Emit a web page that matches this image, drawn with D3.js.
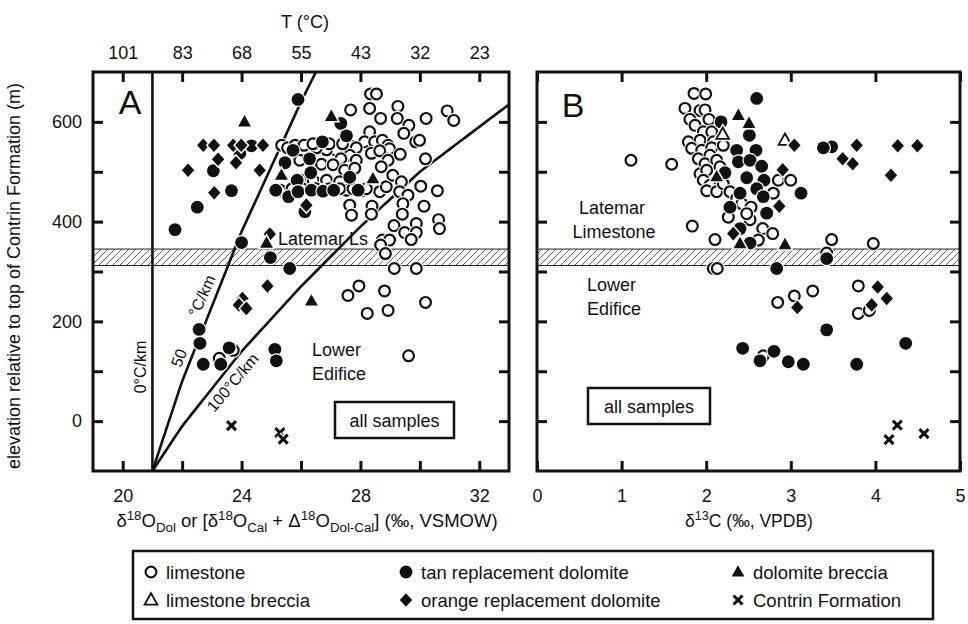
<!DOCTYPE html>
<html>
<head>
<meta charset="utf-8">
<script src="https://cdn.jsdelivr.net/npm/d3@7"></script>
<style>
body { margin: 0; background: #fff; }
svg { display: block; }
</style>
</head>
<body>
<svg></svg>
<script>
var svgWidth = 968;
var svgHeight = 624;
var font = "'Liberation Sans', Arial, Helvetica, sans-serif";

/* ---- data ---- */
// panel A: d18O (permil VSMOW) vs elevation (m)
var aLimestone = [
  [28.34,656],[28.54,656],[27.67,624],[28.31,627],[29.26,631],[28.68,607],[29.24,607],[30.21,607],[30.92,622],[31.14,603],
  [29.63,593],[29.46,577],[29.86,560],[29.99,563],[30.19,526],[28.31,580],[28.14,560],[28.48,560],[28.74,563],[28.93,553],
  [28.98,546],[28.37,537],[28.65,542],[28.93,523],[28.70,510],[29.34,535],[27.64,553],[27.86,548],[27.64,533],[27.86,523],
  [27.19,543],[27.34,526],[26.86,544],[26.52,548],[25.96,523],[26.69,515],[27.08,514],[27.47,503],[27.81,507],
  [26.01,483],[26.41,483],[26.86,483],[27.30,480],[26.63,463],[27.53,463],[28.09,463],[28.42,473],[28.65,460],[28.87,470],
  [29.09,493],[29.38,480],[29.32,460],[29.60,453],[29.43,436],[30.03,471],[30.59,462],[30.14,431],[27.64,433],[27.70,413],
  [28.39,431],[28.37,415],[29.41,415],[29.13,392],[29.49,378],[29.88,396],[29.88,378],[30.63,404],[30.66,386],[29.71,364],
  [28.74,363],[28.98,363],[28.68,353],[28.84,336],[29.14,306],[29.88,306],[27.58,252],[27.95,271],[28.81,261],[28.23,216],
  [28.93,222],[30.19,238],[29.62,131],[23.25,126],[23.72,142],
  [25.35,553],[25.55,548],[25.80,553],[26.10,553],[26.40,556],[26.95,556],[27.40,556],[25.30,463],[25.70,466],[26.05,466],
  [26.50,466],[26.95,466],[27.30,466],[27.75,466],[28.20,466]
];
var aTanDol = [
  [25.90,645],[27.34,597],[27.53,572],[23.94,537],[24.33,552],[23.05,502],[23.66,462],[22.51,429],[21.76,384],[24.00,358],
  [25.73,543],[25.46,518],[26.29,526],[26.33,498],[26.72,560],[25.87,483],[25.15,463],[25.58,450],[25.90,460],[26.35,463],
  [26.74,461],[27.10,463],[27.64,489],[26.13,420],[27.92,463],[24.97,328],[25.62,306],[22.57,184],[22.60,156],[22.71,114],
  [23.30,114],[23.58,147],[25.12,144],[25.17,121]
];
var aOrangeDol = [
  [22.71,553],[23.07,553],[23.72,553],[23.99,553],[24.72,553],[23.21,525],[23.81,518],[22.20,503],[24.61,503],[23.08,458],
  [24.95,375],[26.18,433],[24.87,271],[24.03,246],[23.91,233],[24.16,226]
];
var aDolBreccia = [[24.10,600],[27.02,611],[25.34,493],[24.84,357],[26.35,241],[28.42,486]];
var aLimeBreccia = [];
var aContrin = [[23.66,-9],[25.29,-23],[25.40,-36]];

// panel B: d13C (permil VPDB) vs elevation (m)
var bLimestone = [
  [1.856,657],[1.994,656],[1.749,627],[1.927,623],[1.986,624],[1.808,605],[2.033,605],[1.868,593],[1.966,580],[2.065,580],
  [1.789,560],[1.927,563],[2.084,560],[2.163,560],[1.828,547],[1.947,543],[2.065,548],[2.202,553],[1.907,526],[2.045,533],
  [1.986,516],[2.124,523],[1.927,496],[2.006,503],[2.163,510],[1.966,483],[2.045,473],[2.006,462],[2.124,460],[2.202,476],
  [2.281,460],[2.360,446],[2.420,436],[2.261,409],[2.530,429],[2.518,404],[2.479,416],[2.668,386],[2.786,376],[2.793,457],
  [2.853,483],[2.999,483],[2.616,363],[2.104,364],[1.836,391],[1.592,515],[1.111,523],[3.483,364],[3.975,356],[3.424,337],
  [2.084,306],[2.131,306],[3.798,271],[3.259,261],[3.042,251],[2.845,238],[3.798,216],[3.928,222],[2.675,131]
];
var bTanDol = [
  [2.597,647],[2.175,600],[2.510,573],[2.360,543],[2.589,543],[2.380,520],[2.518,523],[2.656,511],[2.222,498],[2.479,488],
  [2.683,483],[2.597,466],[2.400,457],[2.675,450],[3.121,457],[2.281,429],[2.715,417],[2.400,386],[2.518,357],[3.483,550],
  [3.385,548],[2.833,306],[3.424,326],[3.424,183],[4.358,156],[2.431,146],[2.636,121],[2.801,140],[2.970,119],[3.148,114],
  [3.779,114]
];
var bOrangeDol = [
  [3.042,553],[3.779,553],[4.264,552],[4.496,552],[3.613,526],[3.732,516],[4.184,493],[2.904,504],[2.864,431],[2.320,376],
  [4.027,269],[4.134,246],[3.077,228],[3.956,233]
];
var bDolBreccia = [[2.380,613],[2.506,597],[2.124,490],[2.400,356],[2.931,354]];
var bLimeBreccia = [[2.195,575],[2.931,563]];
var bContrin = [[4.259,-8],[4.161,-37],[4.574,-25]];

// axes
var d18Ticks = [20,22,24,26,28,30,32];
var d18Labels = [20,24,28,32];
var tempValues = [101,83,68,55,43,32,23];     // top axis, T (degC) at each d18O tick
var d13Ticks = [0,1,2,3,4,5];
var elevTicks = [0,100,200,300,400,500,600];
var elevLabels = [0,200,400,600];
var gradients = [0, 50, 100];                 // degC/km, all from d18O = 21 at -100 m
var gradStart = [21, -100];
var bandElev = [312, 345];
var legendRows = [
  [['open','limestone'], ['tan','tan replacement dolomite'], ['dolBreccia','dolomite breccia']],
  [['limeBreccia','limestone breccia'], ['orange','orange replacement dolomite'], ['contrin','Contrin Formation']]
];

var svg = d3.select('svg')
    .attr('width', svgWidth)
    .attr('height', svgHeight)
    .style('background', '#fff')
    .style('font-family', font);

var xA = d3.scaleLinear().domain([19, 33]).range([93, 509]);
var xB = d3.scaleLinear().domain([0, 5]).range([537, 960]);
var y = d3.scaleLinear().domain([-100, 700]).range([471, 72]);
// T -> d18O, from the top axis pairs
var tempToD18 = d3.scaleLinear().domain(tempValues).range(d18Ticks);

var defs = svg.append('defs');
/* hatch pattern for the Latemar / Lower Edifice boundary */
defs.append('pattern')
    .attr('id', 'hatch')
    .attr('patternUnits', 'userSpaceOnUse')
    .attr('width', 7).attr('height', 7)
    .append('path')
    .attr('d', 'M-1,8 L8,-1 M-1,1 L1,-1 M6,8 L8,6')
    .attr('stroke', '#333').attr('stroke-width', 0.8);
defs.append('clipPath').attr('id', 'clipA')
    .append('rect').attr('x', 93).attr('y', 72).attr('width', 416).attr('height', 399);

/* thick ticks, labels via formatter */
function styleAxis(g){
    g.select('.domain').remove();
    g.selectAll('.tick line').attr('stroke', '#111').attr('stroke-width', 3);
    g.selectAll('.tick text').attr('font-size', 18).attr('fill', '#111').style('font-family', font);
}

function drawBand(xs){
    var r = xs.range();
    svg.append('rect')
        .attr('x', r[0]).attr('width', r[1] - r[0])
        .attr('y', y(bandElev[1])).attr('height', y(bandElev[0]) - y(bandElev[1]))
        .attr('fill', 'url(#hatch)')
        .attr('stroke', '#222').attr('stroke-width', 1);
}

function drawFrame(xs){
    var r = xs.range();
    svg.append('rect')
        .attr('x', r[0]).attr('y', y(700))
        .attr('width', r[1] - r[0]).attr('height', y(-100) - y(700))
        .attr('fill', 'none').attr('stroke', '#111').attr('stroke-width', 3);
}

/* one marker, with a white halo so overlaps show */
function drawMarker(g, kind, cx, cy){
    var m = g.append('g').attr('transform', `translate(${cx},${cy})`);
    var diamond = 'M0,-6.8L6.2,0L0,6.8L-6.2,0Z';
    var tri = 'M0,-6.8L6.4,4.6L-6.4,4.6Z';
    var cross = 'M-4.5,-4.5L4.5,4.5M-4.5,4.5L4.5,-4.5';
    if(kind === 'open'){
        m.append('circle').attr('r', 7.6).attr('fill', '#fff');
        m.append('circle').attr('r', 5.4).attr('fill', '#fff').attr('stroke', '#111').attr('stroke-width', 2.2);
    } else if(kind === 'tan'){
        m.append('circle').attr('r', 7.6).attr('fill', '#fff');
        m.append('circle').attr('r', 6.4).attr('fill', '#111');
    } else if(kind === 'orange'){
        m.append('path').attr('d', diamond).attr('fill', '#fff').attr('stroke', '#fff').attr('stroke-width', 3);
        m.append('path').attr('d', diamond).attr('fill', '#111');
    } else if(kind === 'dolBreccia'){
        m.append('path').attr('d', tri).attr('fill', '#fff').attr('stroke', '#fff').attr('stroke-width', 3);
        m.append('path').attr('d', tri).attr('fill', '#111');
    } else if(kind === 'limeBreccia'){
        m.append('path').attr('d', tri).attr('fill', '#fff').attr('stroke', '#fff').attr('stroke-width', 4.5);
        m.append('path').attr('d', tri).attr('fill', '#fff').attr('stroke', '#111').attr('stroke-width', 1.8);
    } else if(kind === 'contrin'){
        m.append('path').attr('d', cross).attr('stroke', '#fff').attr('stroke-width', 6);
        m.append('path').attr('d', cross).attr('stroke', '#111').attr('stroke-width', 3);
    }
}

function drawGroup(xs, pts, kind){
    var g = svg.append('g').attr('class', `pts--${kind}`);
    pts.forEach(p => drawMarker(g, kind, xs(p[0]), y(p[1])));
}

function drawText(x, yy, str, size, anchor){
    return svg.append('text')
        .attr('x', x).attr('y', yy)
        .attr('font-size', size)
        .attr('text-anchor', anchor || 'start')
        .attr('fill', '#111')
        .text(str);
}

function drawBoxLabel(x0, y0, w, h, str){
    svg.append('rect').attr('x', x0).attr('y', y0).attr('width', w).attr('height', h)
        .attr('fill', '#fff').attr('stroke', '#111').attr('stroke-width', 2.5);
    drawText(x0 + w / 2, y0 + h / 2 + 6.5, str, 18, 'middle');
}

function rotText(x, yy, angle, str, size){
    svg.append('text').attr('transform', `translate(${x},${yy}) rotate(${angle})`)
        .attr('text-anchor', 'middle').attr('font-size', size).attr('fill', '#111').text(str);
}

/* geothermal gradient curve: T falls by grad degC per km upward from the start point */
function gradientPoints(grad){
    var t0 = tempToD18.invert(gradStart[0]);
    return d3.range(gradStart[1], 701, 10).map(elev => {
        var t = t0 - grad * (elev - gradStart[1]) / 1000;
        return [tempToD18(t), elev];
    });
}

/* ---------- panel A ---------- */
drawBand(xA);

var gradLine = d3.line().x(d => xA(d[0])).y(d => y(d[1])).curve(d3.curveBasis);
var gGrad = svg.append('g').attr('clip-path', 'url(#clipA)');
gradients.forEach(gr => {
    gGrad.append('path')
        .attr('d', gradLine(gradientPoints(gr)))
        .attr('fill', 'none').attr('stroke', '#111').attr('stroke-width', 2.6);
});

svg.append('g').attr('transform', `translate(0,${y(-100)})`)
    .call(d3.axisBottom(xA).tickValues(d18Ticks).tickSizeInner(-10).tickSizeOuter(0).tickPadding(18)
        .tickFormat(d => d18Labels.includes(d) ? d : ''))
    .call(styleAxis);
svg.append('g').attr('transform', `translate(0,${y(700)})`)
    .call(d3.axisTop(xA).tickValues(d18Ticks).tickSizeInner(-10).tickSizeOuter(0).tickPadding(13)
        .tickFormat((d, i) => tempValues[i]))
    .call(styleAxis);
svg.append('g').attr('transform', `translate(${xA(19)},0)`)
    .call(d3.axisLeft(y).tickValues(elevTicks).tickSizeInner(-10).tickSizeOuter(0).tickPadding(11)
        .tickFormat(d => elevLabels.includes(d) ? d : ''))
    .call(styleAxis);
svg.append('g').attr('transform', `translate(${xA(33)},0)`)
    .call(d3.axisRight(y).tickValues(elevTicks).tickSizeInner(-10).tickSizeOuter(0).tickFormat(''))
    .call(styleAxis);

drawText(130, 114, 'A', 34, 'middle');
drawText(278, 245, 'Latemar Ls', 18);
drawText(312, 356, 'Lower', 18);
drawText(312, 380, 'Edifice', 18);
drawBoxLabel(335, 402, 119, 36, 'all samples');

// gradient labels
rotText(146, 367, -90, '0°C/km', 16);
rotText(184, 360, -68, '50', 16);
rotText(207, 298, -66, '°C/km', 16);
rotText(237, 386, -50, '100°C/km', 16);

drawGroup(xA, aLimestone, 'open');
drawGroup(xA, aTanDol, 'tan');
drawGroup(xA, aLimeBreccia, 'limeBreccia');
drawGroup(xA, aOrangeDol, 'orange');
drawGroup(xA, aDolBreccia, 'dolBreccia');
drawGroup(xA, aContrin, 'contrin');
drawFrame(xA);

/* ---------- panel B ---------- */
drawBand(xB);

svg.append('g').attr('transform', `translate(0,${y(-100)})`)
    .call(d3.axisBottom(xB).tickValues(d13Ticks).tickSizeInner(-10).tickSizeOuter(0).tickPadding(18)
        .tickFormat(d3.format('d')))
    .call(styleAxis);
svg.append('g').attr('transform', `translate(0,${y(700)})`)
    .call(d3.axisTop(xB).tickValues(d13Ticks).tickSizeInner(-10).tickSizeOuter(0).tickFormat(''))
    .call(styleAxis);
svg.append('g').attr('transform', `translate(${xB(0)},0)`)
    .call(d3.axisLeft(y).tickValues(elevTicks).tickSizeInner(-10).tickSizeOuter(0).tickFormat(''))
    .call(styleAxis);
svg.append('g').attr('transform', `translate(${xB(5)},0)`)
    .call(d3.axisRight(y).tickValues(elevTicks).tickSizeInner(-10).tickSizeOuter(0).tickFormat(''))
    .call(styleAxis);

drawText(573, 117, 'B', 34, 'middle');
drawText(612, 214, 'Latemar', 18, 'middle');
drawText(614, 238, 'Limestone', 18, 'middle');
drawText(587, 291, 'Lower', 18);
drawText(587, 315, 'Edifice', 18);
drawBoxLabel(588, 388, 122, 36, 'all samples');

drawGroup(xB, bLimestone, 'open');
drawGroup(xB, bTanDol, 'tan');
drawGroup(xB, bLimeBreccia, 'limeBreccia');
drawGroup(xB, bOrangeDol, 'orange');
drawGroup(xB, bDolBreccia, 'dolBreccia');
drawGroup(xB, bContrin, 'contrin');
drawFrame(xB);

/* ---------- axis titles ---------- */
drawText(305, 28, 'T (°C)', 18, 'middle');
rotText(20, 276, -90, 'elevation relative to top of Contrin Formation (m)', 18);

/* text with sup/sub parts: [string, 'n'|'sup'|'sub'] */
function richText(x, yy, parts, anchor, size){
    var t = svg.append('text').attr('x', x).attr('y', yy)
        .attr('text-anchor', anchor).attr('font-size', size).attr('fill', '#111');
    var shift = 0;
    parts.forEach(p => {
        var target = p[1] === 'sup' ? -7 : p[1] === 'sub' ? 5 : 0;
        t.append('tspan')
            .attr('dy', target - shift)
            .attr('font-size', p[1] === 'n' ? size : size * 0.72)
            .text(p[0]);
        shift = target;
    });
    return t;
}

richText(307, 527, [
    ['δ','n'],['18','sup'],['O','n'],['Dol','sub'],[' or [δ','n'],['18','sup'],['O','n'],['Cal','sub'],
    [' + Δ','n'],['18','sup'],['O','n'],['Dol-Cal','sub'],['] (‰, VSMOW)','n']
], 'middle', 18.5);
richText(749, 527, [['δ','n'],['13','sup'],['C (‰, VPDB)','n']], 'middle', 17.5);

/* ---------- legend ---------- */
svg.append('rect').attr('x', 133).attr('y', 551).attr('width', 800).attr('height', 68)
    .attr('fill', '#fff').attr('stroke', '#111').attr('stroke-width', 2.5);
var legCols = [151, 406, 738];
var legRowY = [572, 600];
var lg = svg.append('g');
legendRows.forEach((row, ri) => {
    row.forEach((item, ci) => {
        drawMarker(lg, item[0], legCols[ci], legRowY[ri]);
        drawText(legCols[ci] + 15, legRowY[ri] + 6.5, item[1], 18.5);
    });
});
</script>
</body>
</html>
